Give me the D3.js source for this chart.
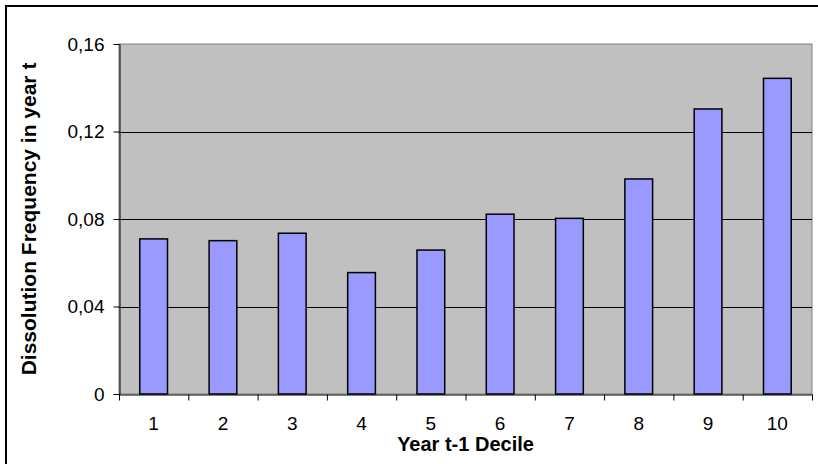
<!DOCTYPE html>
<html>
<head>
<meta charset="utf-8">
<script src="https://cdn.jsdelivr.net/npm/d3@7"></script>
<style>
  body { margin: 0; background: #fff; }
  text { font-family: "Liberation Sans", Arial, sans-serif; }
</style>
</head>
<body>
<script>
// chart data
var categories = ["1", "2", "3", "4", "5", "6", "7", "8", "9", "10"];
var values = [0.0709, 0.0701, 0.0735, 0.0555, 0.0658, 0.0822, 0.0803, 0.0983, 0.1303, 0.1443];
var yTicks = [0, 0.04, 0.08, 0.12, 0.16];
var yTickLabels = ["0", "0,04", "0,08", "0,12", "0,16"];

var width = 818, height = 464;
var plot = {left: 119, right: 812, top: 44, bottom: 394};

var svg = d3.select("body").append("svg")
    .attr("width", width)
    .attr("height", height);

// outer chart border (runs off the right/bottom edge like the original)
svg.append("rect")
    .attr("x", 6).attr("y", 6)
    .attr("width", 900).attr("height", 600)
    .attr("fill", "#fff")
    .attr("stroke", "#000")
    .attr("stroke-width", 2);

var x = d3.scaleBand()
    .domain(categories)
    .range([plot.left, plot.right])
    .paddingInner(0.6)
    .paddingOuter(0.3);

var xEdge = d3.scaleLinear()
    .domain([0, categories.length])
    .range([plot.left, plot.right]);

var y = d3.scaleLinear()
    .domain([0, 0.16])
    .range([plot.bottom, plot.top]);

// plot area
svg.append("rect")
    .attr("x", plot.left).attr("y", plot.top)
    .attr("width", plot.right - plot.left)
    .attr("height", plot.bottom - plot.top)
    .attr("fill", "#c0c0c0")
    .attr("stroke", "#808080")
    .attr("stroke-width", 1);

// gridlines
svg.selectAll("line.grid")
    .data(yTicks.filter(function(d){ return d > 0 && d < 0.16; }))
    .enter().append("line")
    .attr("class", "grid")
    .attr("x1", plot.left).attr("x2", plot.right)
    .attr("y1", function(d){ return Math.round(y(d)) + 0.5; })
    .attr("y2", function(d){ return Math.round(y(d)) + 0.5; })
    .attr("stroke", "#000")
    .attr("stroke-width", 1);

// bars
svg.selectAll("rect.bar")
    .data(values)
    .enter().append("rect")
    .attr("class", "bar")
    .attr("x", function(d, i){ return x(categories[i]); })
    .attr("y", function(d){ return y(d); })
    .attr("width", x.bandwidth())
    .attr("height", function(d){ return y(0) - y(d); })
    .attr("fill", "#9999ff")
    .attr("stroke", "#000")
    .attr("stroke-width", 1.5);

// y axis
var yAxis = d3.axisLeft(y)
    .tickValues(yTicks)
    .tickFormat(function(d, i){ return yTickLabels[i]; })
    .tickSize(6)
    .tickSizeOuter(0)
    .tickPadding(9);

var gy = svg.append("g")
    .attr("transform", "translate(" + (plot.left + 0.5) + ",0)")
    .call(yAxis);
gy.selectAll("text").attr("font-size", 19).attr("fill", "#000");
gy.select(".domain").attr("stroke", "#000");

// x axis: ticks between categories
var gxTicks = svg.append("g")
    .attr("transform", "translate(0," + (plot.bottom + 0.5) + ")")
    .call(d3.axisBottom(xEdge)
        .tickValues(d3.range(categories.length + 1))
        .tickFormat("")
        .tickSize(6)
        .tickSizeOuter(0));
gxTicks.select(".domain").attr("stroke", "#000");

// x axis labels
var gx = svg.append("g")
    .attr("transform", "translate(0," + plot.bottom + ")")
    .call(d3.axisBottom(x).tickSize(0).tickPadding(23));
gx.select(".domain").remove();
gx.selectAll("text").attr("font-size", 19).attr("fill", "#000");

// axis titles
svg.append("text")
    .attr("x", (plot.left + plot.right) / 2)
    .attr("y", 451)
    .attr("text-anchor", "middle")
    .attr("font-size", 20)
    .attr("font-weight", "bold")
    .text("Year t-1 Decile");

svg.append("text")
    .attr("transform", "translate(36," + (plot.top + plot.bottom) / 2 + ") rotate(-90)")
    .attr("text-anchor", "middle")
    .attr("font-size", 21)
    .attr("font-weight", "bold")
    .text("Dissolution Frequency in year t");
</script>
</body>
</html>
